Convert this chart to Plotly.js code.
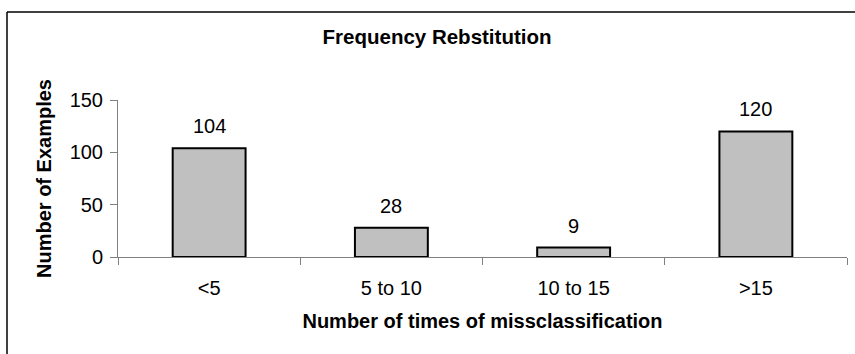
<!DOCTYPE html>
<html>
<head>
<meta charset="utf-8">
<script src="https://cdn.plot.ly/plotly-3.0.1.min.js"></script>
<style>html,body{margin:0;padding:0;background:#fff}#chart{width:855px;height:354px}</style>
</head>
<body>
<div id="chart"></div>
<script>
const categories = ["<5", "5 to 10", "10 to 15", ">15"];
const counts = [104, 28, 9, 120];
const yTicks = [0, 50, 100, 150];
const chartTitle = "Frequency Rebstitution";
const xTitle = "Number of times of missclassification";
const yTitle = "Number of Examples";

const W = 855, H = 354;
const M = {l: 118, r: 8, t: 100, b: 97};
const PW = W - M.l - M.r, PH = H - M.t - M.b;
const px2x = px => (px - M.l) / PW;
const py2y = py => (H - M.b - py) / PH;

const FONT = "Liberation Sans, Arial, sans-serif";

const trace = {
  type: "bar",
  x: categories,
  y: counts,
  width: 0.4,
  marker: {color: "#c0c0c0", line: {color: "#000000", width: 2}},
  hoverinfo: "skip",
  showlegend: false
};

const labels = categories.map((c, i) => ({
  x: c, y: counts[i], xref: "x", yref: "y",
  text: String(counts[i]), showarrow: false,
  yanchor: "middle", yshift: 22,
  font: {family: FONT, size: 20, color: "#000"}
}));

const layout = {
  width: W, height: H,
  margin: M,
  paper_bgcolor: "#fff", plot_bgcolor: "#fff",
  font: {family: FONT, size: 20, color: "#000"},
  title: {
    text: "<b>" + chartTitle + "</b>",
    font: {family: FONT, size: 20.5, color: "#000"},
    x: 437 / W, xref: "container", xanchor: "center",
    y: 1 - 37 / H, yref: "container", yanchor: "middle"
  },
  xaxis: {
    type: "category",
    range: [-0.5, categories.length - 0.5],
    showline: true, linecolor: "#808080", linewidth: 1,
    ticks: "outside", tickson: "boundaries", ticklen: 7, tickcolor: "#808080", tickwidth: 1,
    showgrid: false, zeroline: false,
    tickfont: {family: FONT, size: 20, color: "#000"},
    ticklabelstandoff: 13,
    title: {text: "<b>" + xTitle + "</b>", font: {family: FONT, size: 20, color: "#000"}, standoff: 15},
    automargin: false, fixedrange: true
  },
  yaxis: {
    range: [0, 150],
    tickvals: yTicks,
    showline: true, linecolor: "#808080", linewidth: 1,
    ticks: "outside", ticklen: 7, tickcolor: "#808080", tickwidth: 1,
    showgrid: false, zeroline: false,
    tickfont: {family: FONT, size: 20, color: "#000"},
    ticklabelstandoff: 3,
    title: {text: "<b>" + yTitle + "</b>", font: {family: FONT, size: 20, color: "#000"}, standoff: 12},
    automargin: false, fixedrange: true
  },
  annotations: labels,
  shapes: [
    {type: "line", xref: "paper", yref: "paper", x0: px2x(7), x1: px2x(900), y0: py2y(12), y1: py2y(12), line: {color: "#000", width: 1.5}},
    {type: "line", xref: "paper", yref: "paper", x0: px2x(7), x1: px2x(7), y0: py2y(12), y1: py2y(400), line: {color: "#000", width: 1.5}}
  ],
  bargap: 0.6
};

Plotly.newPlot("chart", [trace], layout, {displayModeBar: false, staticPlot: true});
</script>
</body>
</html>
